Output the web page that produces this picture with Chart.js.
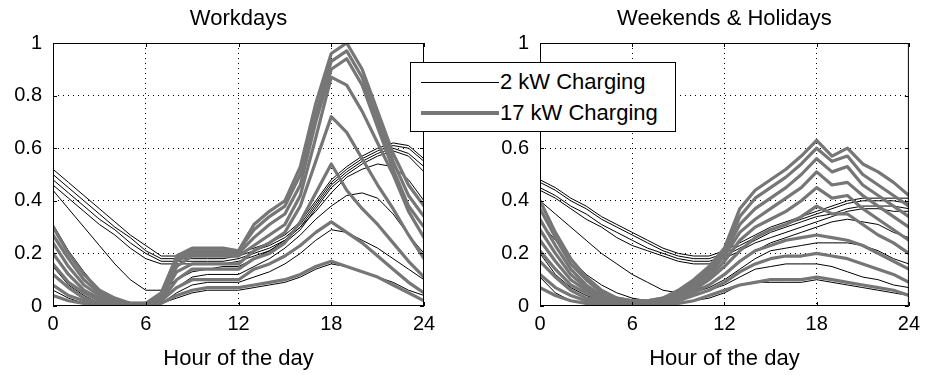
<!DOCTYPE html>
<html lang="en">
<head>
<meta charset="UTF-8">
<title>EV charging load profiles</title>
<script src="https://cdn.jsdelivr.net/npm/chart.js@4.4.1/dist/chart.umd.min.js"></script>
<style>
  body { margin: 0; background: #fff; font-family: "Liberation Sans", Arial, sans-serif; }
  #wrap { position: relative; width: 926px; height: 375px; }
  canvas { position: absolute; top: 0; }
  #legend { position: absolute; left: 410px; top: 62px; width: 264px; height: 68px;
            border: 1px solid #000; background: #fff; z-index: 2; }
  .sample { position: absolute; left: 10px; width: 78px; }
  .label { position: absolute; left: 89px; font-size: 22px; line-height: 26px; color: #000; white-space: nowrap; }
</style>
</head>
<body>
<div id="wrap">
  <canvas id="workdays" width="463" height="375" style="left:0"></canvas>
  <canvas id="weekends" width="463" height="375" style="left:463px"></canvas>
  <div id="legend">
    <div class="sample" style="top:19px;border-top:1px solid #000"></div>
    <div class="label" style="top:6px">2 kW Charging</div>
    <div class="sample" style="top:48px;border-top:4px solid #767676"></div>
    <div class="label" style="top:37px">17 kW Charging</div>
  </div>
</div>

<script>
  // hour of the day
  const hours = [0,1,2,3,4,5,6,7,8,9,10,11,12,13,14,15,16,17,18,19,20,21,22,23,24];
  const xTicks = [0, 6, 12, 18, 24];
  const yTicks = [0, 0.2, 0.4, 0.6, 0.8, 1];

  // Workdays - 17 kW charging (grey)
  const work17kW = [
    [0.30,0.20,0.12,0.06,0.03,0.01,0.01,0.05,0.19,0.22,0.22,0.22,0.21,0.31,0.36,0.40,0.53,0.77,0.96,1.00,0.90,0.74,0.58,0.46,0.38],
    [0.27,0.18,0.10,0.05,0.02,0.01,0.01,0.04,0.18,0.21,0.21,0.21,0.21,0.29,0.34,0.38,0.50,0.73,0.93,0.97,0.87,0.71,0.55,0.42,0.34],
    [0.24,0.15,0.08,0.04,0.02,0.01,0.01,0.04,0.17,0.20,0.20,0.20,0.20,0.26,0.31,0.35,0.46,0.70,0.90,0.94,0.84,0.68,0.52,0.38,0.30],
    [0.20,0.12,0.06,0.03,0.01,0.00,0.01,0.03,0.15,0.19,0.19,0.19,0.19,0.23,0.27,0.31,0.42,0.64,0.87,0.84,0.74,0.62,0.50,0.36,0.26],
    [0.16,0.09,0.05,0.02,0.01,0.00,0.00,0.03,0.13,0.16,0.16,0.16,0.16,0.21,0.24,0.28,0.38,0.55,0.72,0.66,0.56,0.46,0.37,0.27,0.18],
    [0.12,0.07,0.03,0.01,0.00,0.00,0.00,0.02,0.10,0.14,0.14,0.14,0.14,0.18,0.20,0.24,0.32,0.43,0.54,0.44,0.37,0.31,0.24,0.17,0.11],
    [0.08,0.04,0.02,0.01,0.00,0.00,0.00,0.02,0.07,0.10,0.10,0.10,0.10,0.14,0.16,0.19,0.23,0.28,0.32,0.28,0.24,0.19,0.14,0.09,0.05],
    [0.04,0.02,0.01,0.00,0.00,0.00,0.00,0.01,0.04,0.06,0.07,0.07,0.07,0.08,0.09,0.10,0.12,0.15,0.17,0.15,0.13,0.11,0.08,0.05,0.02]
  ];

  // Workdays - 2 kW charging (black)
  const work2kW = [
    [0.52,0.47,0.42,0.37,0.32,0.27,0.23,0.19,0.19,0.19,0.19,0.19,0.20,0.22,0.24,0.27,0.32,0.40,0.48,0.53,0.57,0.60,0.62,0.61,0.56],
    [0.50,0.45,0.40,0.35,0.30,0.26,0.21,0.18,0.18,0.18,0.18,0.18,0.19,0.21,0.23,0.26,0.31,0.39,0.47,0.52,0.56,0.59,0.61,0.60,0.55],
    [0.48,0.43,0.38,0.33,0.29,0.24,0.20,0.17,0.17,0.17,0.17,0.17,0.18,0.20,0.22,0.25,0.30,0.38,0.46,0.51,0.55,0.58,0.60,0.58,0.53],
    [0.46,0.41,0.36,0.31,0.27,0.22,0.18,0.16,0.16,0.16,0.16,0.16,0.17,0.19,0.21,0.24,0.29,0.37,0.45,0.50,0.54,0.57,0.59,0.57,0.51],
    [0.44,0.37,0.30,0.23,0.16,0.10,0.06,0.06,0.10,0.13,0.14,0.15,0.15,0.18,0.21,0.25,0.30,0.36,0.43,0.49,0.52,0.54,0.53,0.48,0.40],
    [0.31,0.21,0.13,0.06,0.02,0.01,0.00,0.02,0.07,0.11,0.12,0.12,0.12,0.15,0.18,0.22,0.27,0.33,0.38,0.42,0.43,0.41,0.35,0.27,0.20],
    [0.15,0.08,0.04,0.01,0.00,0.00,0.00,0.01,0.05,0.08,0.09,0.09,0.09,0.11,0.13,0.16,0.20,0.25,0.29,0.28,0.25,0.22,0.18,0.14,0.10],
    [0.06,0.03,0.01,0.00,0.00,0.00,0.00,0.01,0.03,0.05,0.06,0.06,0.06,0.07,0.08,0.09,0.11,0.14,0.16,0.15,0.13,0.11,0.09,0.06,0.04]
  ];

  // Weekends & Holidays - 17 kW charging (grey)
  const weekend17kW = [
    [0.40,0.28,0.18,0.11,0.06,0.03,0.02,0.02,0.03,0.06,0.10,0.15,0.22,0.37,0.44,0.48,0.52,0.57,0.63,0.57,0.60,0.54,0.51,0.47,0.42],
    [0.37,0.26,0.16,0.10,0.05,0.03,0.02,0.02,0.03,0.05,0.09,0.14,0.21,0.34,0.41,0.45,0.49,0.54,0.60,0.55,0.57,0.50,0.46,0.42,0.38],
    [0.33,0.23,0.14,0.08,0.04,0.02,0.01,0.01,0.02,0.05,0.08,0.13,0.20,0.31,0.37,0.41,0.45,0.50,0.56,0.51,0.53,0.46,0.42,0.38,0.34],
    [0.29,0.20,0.12,0.07,0.03,0.02,0.01,0.01,0.02,0.04,0.08,0.12,0.19,0.28,0.33,0.37,0.41,0.45,0.51,0.46,0.47,0.42,0.38,0.34,0.30],
    [0.25,0.17,0.10,0.06,0.03,0.01,0.01,0.01,0.02,0.04,0.07,0.11,0.17,0.25,0.30,0.33,0.36,0.40,0.45,0.41,0.42,0.37,0.33,0.29,0.25],
    [0.21,0.14,0.08,0.05,0.02,0.01,0.00,0.00,0.01,0.03,0.06,0.10,0.15,0.21,0.26,0.29,0.31,0.34,0.38,0.35,0.35,0.31,0.27,0.24,0.20],
    [0.17,0.11,0.06,0.03,0.02,0.01,0.00,0.00,0.01,0.03,0.05,0.08,0.12,0.17,0.21,0.23,0.25,0.26,0.27,0.26,0.25,0.23,0.20,0.17,0.14],
    [0.12,0.07,0.04,0.02,0.01,0.00,0.00,0.00,0.01,0.02,0.04,0.06,0.09,0.13,0.16,0.18,0.19,0.19,0.20,0.19,0.18,0.16,0.14,0.12,0.09],
    [0.07,0.04,0.02,0.01,0.00,0.00,0.00,0.00,0.01,0.01,0.02,0.04,0.06,0.08,0.09,0.10,0.10,0.10,0.11,0.10,0.09,0.08,0.07,0.06,0.04]
  ];

  // Weekends & Holidays - 2 kW charging (black)
  const weekend2kW = [
    [0.48,0.45,0.41,0.38,0.34,0.31,0.28,0.25,0.22,0.20,0.19,0.19,0.21,0.24,0.27,0.30,0.32,0.34,0.36,0.38,0.40,0.41,0.41,0.41,0.41],
    [0.47,0.44,0.40,0.37,0.33,0.30,0.27,0.24,0.21,0.19,0.18,0.18,0.20,0.23,0.26,0.29,0.31,0.33,0.35,0.37,0.39,0.40,0.40,0.40,0.39],
    [0.45,0.42,0.38,0.35,0.31,0.28,0.25,0.22,0.20,0.18,0.17,0.17,0.19,0.22,0.25,0.28,0.30,0.32,0.34,0.35,0.37,0.38,0.38,0.38,0.37],
    [0.44,0.41,0.37,0.33,0.30,0.26,0.23,0.21,0.19,0.17,0.16,0.16,0.18,0.21,0.24,0.26,0.28,0.30,0.32,0.34,0.36,0.37,0.37,0.36,0.36],
    [0.40,0.35,0.30,0.25,0.20,0.16,0.12,0.09,0.06,0.05,0.06,0.08,0.12,0.17,0.21,0.24,0.26,0.28,0.30,0.32,0.33,0.32,0.31,0.28,0.26],
    [0.32,0.25,0.18,0.12,0.08,0.05,0.03,0.02,0.02,0.03,0.05,0.07,0.10,0.14,0.18,0.21,0.22,0.23,0.24,0.24,0.24,0.23,0.21,0.18,0.16],
    [0.20,0.12,0.07,0.04,0.02,0.01,0.01,0.01,0.01,0.02,0.04,0.06,0.08,0.11,0.14,0.15,0.16,0.16,0.16,0.15,0.13,0.11,0.10,0.08,0.07],
    [0.11,0.05,0.02,0.01,0.00,0.00,0.00,0.00,0.01,0.01,0.02,0.03,0.05,0.08,0.09,0.09,0.09,0.09,0.10,0.09,0.08,0.07,0.06,0.05,0.04]
  ];

  const FONT = '"Liberation Sans", Arial, sans-serif';
  const GREY = '#767676';

  // MATLAB-like axes box with inner tick marks
  const boxPlugin = {
    id: 'box',
    afterDatasetsDraw(chart) {
      const { ctx, chartArea: a, scales } = chart;
      ctx.save();
      ctx.strokeStyle = '#000';
      ctx.lineWidth = 1;
      ctx.strokeRect(a.left + 0.5, a.top + 0.5, a.width - 1, a.height - 1);
      ctx.beginPath();
      xTicks.forEach(v => {
        const px = Math.round(scales.x.getPixelForValue(v)) + 0.5;
        ctx.moveTo(px, a.bottom); ctx.lineTo(px, a.bottom - 4);
        ctx.moveTo(px, a.top); ctx.lineTo(px, a.top + 4);
      });
      yTicks.forEach(v => {
        const py = Math.round(scales.y.getPixelForValue(v)) + 0.5;
        ctx.moveTo(a.left, py); ctx.lineTo(a.left + 4, py);
        ctx.moveTo(a.right, py); ctx.lineTo(a.right - 4, py);
      });
      ctx.stroke();
      ctx.restore();
    }
  };

  function toPoints(values) {
    return hours.map((h, i) => ({ x: h, y: values[i] }));
  }

  function makePanel(id, title, grey, black, yWidth, padRight) {
    const datasets = [];
    grey.forEach(s => datasets.push({
      data: toPoints(s), borderColor: GREY, borderWidth: 3.2,
      borderJoinStyle: 'round', borderCapStyle: 'round'
    }));
    black.forEach(s => datasets.push({
      data: toPoints(s), borderColor: '#000', borderWidth: 1
    }));

    const gridColor = (lo, hi) => c => (c.tick.value === lo || c.tick.value === hi) ? 'rgba(0,0,0,0)' : '#000';

    new Chart(document.getElementById(id), {
      type: 'line',
      data: { datasets },
      plugins: [boxPlugin],
      options: {
        responsive: false,
        animation: false,
        devicePixelRatio: 1,
        layout: { padding: { left: 0, right: padRight, top: 0, bottom: 0 } },
        elements: { point: { radius: 0 }, line: { tension: 0 } },
        plugins: {
          legend: { display: false },
          tooltip: { enabled: false },
          title: {
            display: true, text: title, fullSize: false, color: '#000',
            font: { family: FONT, size: 22, weight: 'normal' },
            padding: { top: 6, bottom: 10.6 }
          }
        },
        scales: {
          x: {
            type: 'linear', min: 0, max: 24,
            afterBuildTicks: s => { s.ticks = xTicks.map(v => ({ value: v })); },
            afterFit: s => { s.height = 69; },
            ticks: { color: '#000', font: { family: FONT, size: 20 }, padding: 6, callback: v => String(v) },
            grid: { color: gridColor(0, 24), lineWidth: 1, drawTicks: false },
            border: { display: false, dash: [1, 4] },
            title: {
              display: true, text: 'Hour of the day', color: '#000',
              font: { family: FONT, size: 22 }, padding: { top: 0, bottom: 3 }
            }
          },
          y: {
            min: 0, max: 1,
            afterBuildTicks: s => { s.ticks = yTicks.map(v => ({ value: v })); },
            afterFit: s => { s.width = yWidth; },
            ticks: { color: '#000', font: { family: FONT, size: 20 }, padding: 11, callback: v => String(v) },
            grid: { color: gridColor(0, 1), lineWidth: 1, drawTicks: false },
            border: { display: false, dash: [1, 4] }
          }
        }
      }
    });
  }

  makePanel('workdays', 'Workdays', work17kW, work2kW, 53, 39);
  makePanel('weekends', 'Weekends & Holidays', weekend17kW, weekend2kW, 77, 16);
</script>
</body>
</html>
